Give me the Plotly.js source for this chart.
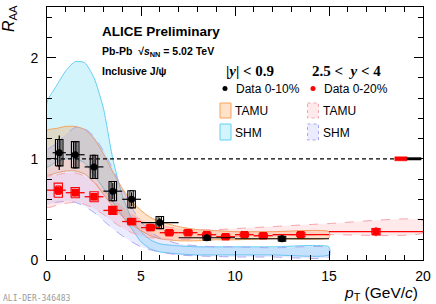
<!DOCTYPE html>
<html><head><meta charset="utf-8">
<script src="https://cdn.plot.ly/plotly-3.0.1.min.js"></script>
<style>html,body{margin:0;padding:0;background:#fff}</style>
</head><body><div id="chart" style="width:436px;height:304px"></div>
<script>
// ---- Data: |y|<0.9, 0-10% (black) ----
var midPt      = [0.65, 1.5, 2.5, 3.5, 4.5, 6.0, 8.5, 12.5];
var midLo      = [0.3, 1.0, 2.0, 3.0, 4.0, 5.0, 7.0, 10.0];
var midHi      = [1.0, 2.0, 3.0, 4.0, 5.0, 7.0, 10.0, 15.0];
var midRaa     = [1.06, 1.04, 0.92, 0.68, 0.60, 0.37, 0.22, 0.21];
var midStat    = [0.17, 0.13, 0.11, 0.08, 0.07, 0.05, 0.03, 0.03];
var midSys     = [0.13, 0.13, 0.115, 0.095, 0.085, 0.06, 0.025, 0.025];
// ---- Data: 2.5<y<4, 0-20% (red) ----
var fwdPt      = [0.6, 1.5, 2.5, 3.5, 4.5, 5.5, 6.5, 7.5, 8.5, 9.5, 10.5, 11.5, 13.5, 17.5];
var fwdLo      = [0, 1, 2, 3, 4, 5, 6, 7, 8, 9, 10, 11, 12, 15];
var fwdHi      = [1, 2, 3, 4, 5, 6, 7, 8, 9, 10, 11, 12, 15, 20];
var fwdRaa     = [0.69, 0.665, 0.625, 0.49, 0.38, 0.32, 0.27, 0.27, 0.25, 0.23, 0.25, 0.24, 0.25, 0.28];
var fwdStat    = [0.03, 0.02, 0.02, 0.02, 0.015, 0.012, 0.01, 0.01, 0.012, 0.012, 0.015, 0.015, 0.02, 0.045];
var fwdSys     = [0.07, 0.05, 0.05, 0.04, 0.03, 0.025, 0.02, 0.02, 0.02, 0.02, 0.02, 0.02, 0.02, 0.03];
var globalUncFwd = 0.02;
var globalUncMid = 0.012;
// ---- Models ----
var modelPtMid = [0, 0.5, 1, 1.5, 2, 2.5, 3, 3.5, 4, 4.5, 5, 5.5, 6, 7, 8, 9, 10, 12, 15];
var shmMidUp   = [1.56, 1.72, 1.87, 1.96, 1.95, 1.80, 1.50, 1.00, 0.64, 0.41, 0.28, 0.20, 0.16, 0.14, 0.13, 0.13, 0.13, 0.13, 0.13];
var shmMidLow  = [0.92, 0.97, 1.00, 1.00, 0.96, 0.84, 0.71, 0.57, 0.44, 0.31, 0.18, 0.11, 0.08, 0.06, 0.05, 0.05, 0.05, 0.05, 0.05];
var tamuMidUp  = [1.28, 1.30, 1.32, 1.32, 1.29, 1.20, 1.05, 0.87, 0.71, 0.58, 0.49, 0.42, 0.38, 0.33, 0.30, 0.29, 0.28, 0.28, 0.28];
var tamuMidLow = [0.84, 0.86, 0.88, 0.88, 0.85, 0.77, 0.65, 0.53, 0.43, 0.35, 0.29, 0.24, 0.21, 0.19, 0.19, 0.20, 0.20, 0.21, 0.22];
var modelPtFwd = [0, 0.5, 1, 1.5, 2, 2.5, 3, 3.5, 4, 4.5, 5, 5.5, 6, 7, 8, 9, 10, 12, 15, 20];
var tamuFwdUp  = [0.82, 0.84, 0.86, 0.86, 0.83, 0.77, 0.69, 0.60, 0.52, 0.45, 0.40, 0.36, 0.34, 0.31, 0.30, 0.30, 0.31, 0.33, 0.36, 0.39];
var tamuFwdLow = [0.52, 0.54, 0.56, 0.57, 0.55, 0.51, 0.45, 0.38, 0.32, 0.27, 0.24, 0.22, 0.21, 0.20, 0.21, 0.22, 0.23, 0.24, 0.25, 0.27];
var shmFwdPt   = [0, 0.5, 1, 1.5, 2, 2.5, 3, 3.5, 4, 4.5, 5, 5.5, 6, 7, 8, 9, 10, 12, 15];
var shmFwdUp   = [1.08, 1.15, 1.24, 1.31, 1.30, 1.22, 1.08, 0.90, 0.70, 0.52, 0.38, 0.28, 0.22, 0.16, 0.14, 0.13, 0.13, 0.12, 0.12];
var shmFwdLow  = [0.55, 0.57, 0.58, 0.57, 0.53, 0.47, 0.39, 0.31, 0.24, 0.18, 0.13, 0.10, 0.08, 0.05, 0.04, 0.035, 0.03, 0.03, 0.03];
var xTickVals  = [0, 5, 10, 15, 20];
var yTickVals  = [0, 1, 2];

function band(xs, up, lo, fill, lcol, dash, name) {
  var x = xs.slice().concat(xs.slice().reverse(), [xs[0]]);
  var y = up.slice().concat(lo.slice().reverse(), [up[0]]);
  return {x: x, y: y, type: 'scatter', mode: 'lines', fill: 'toself', fillcolor: fill,
    line: {color: lcol, width: 1, dash: dash, shape: 'spline', smoothing: 0.6}, hoverinfo: 'skip', name: name, showlegend: false};
}
function boxes(xs, ys, hw, hh, col, w) {
  var bx = [], by = [];
  for (var i = 0; i < xs.length; i++) {
    var h = hh[i];
    bx.push(xs[i]-hw, xs[i]+hw, xs[i]+hw, xs[i]-hw, xs[i]-hw, null);
    by.push(ys[i]-h, ys[i]-h, ys[i]+h, ys[i]+h, ys[i]-h, null);
  }
  return {x: bx, y: by, type: 'scatter', mode: 'lines', line: {color: col, width: w}, hoverinfo: 'skip', showlegend: false};
}
function scaled(arr, f) { return arr.map(function(v){ return v*f; }); }
function diff(a, b) { return a.map(function(v, i){ return Math.abs(v - b[i]); }); }

var traces = [
  band(modelPtMid, shmMidUp, shmMidLow, 'rgba(0,190,237,0.17)', '#62d0f2', 'solid', 'SHM mid'),
  band(modelPtMid, tamuMidUp, tamuMidLow, 'rgba(255,140,40,0.25)', '#f5a35a', 'solid', 'TAMU mid'),
  band(shmFwdPt, shmFwdUp, shmFwdLow, 'rgba(120,120,255,0.15)', '#a8a8f0', 'dash', 'SHM fwd'),
  band(modelPtFwd, tamuFwdUp, tamuFwdLow, 'rgba(255,100,110,0.14)', '#f5a5ad', 'dash', 'TAMU fwd'),
  {x: [0, 18.5], y: [1, 1], type: 'scatter', mode: 'lines', line: {color: '#000', width: 1.3, dash: '4px,3px'}, hoverinfo: 'skip', showlegend: false},
  {x: [18.5, 19.15, 19.15, 18.5, 18.5], y: [1-globalUncFwd, 1-globalUncFwd, 1+globalUncFwd, 1+globalUncFwd, 1-globalUncFwd],
   type: 'scatter', mode: 'lines', fill: 'toself', fillcolor: '#ff0000', line: {color: '#ff0000', width: 0.5}, hoverinfo: 'skip', showlegend: false},
  {x: [19.15, 19.9, 19.9, 19.15, 19.15], y: [1-globalUncMid, 1-globalUncMid, 1+globalUncMid, 1+globalUncMid, 1-globalUncMid],
   type: 'scatter', mode: 'lines', fill: 'toself', fillcolor: '#000', line: {color: '#000', width: 0.5}, hoverinfo: 'skip', showlegend: false},
  boxes(fwdPt, fwdRaa, 0.22, fwdSys, '#ff0000', 1.1),
  boxes(fwdPt, fwdRaa, 0.12, scaled(fwdSys, 0.6), '#ff0000', 1.0),
  boxes(midPt, midRaa, 0.2, midSys, '#000', 1.1),
  boxes(midPt, midRaa, 0.09, midSys, '#000', 1.0),
  {x: fwdPt, y: fwdRaa, type: 'scatter', mode: 'markers',
   marker: {symbol: 'square', size: 7.5, color: '#ff0000'},
   error_y: {type: 'data', array: fwdStat, visible: true, color: '#ff0000', thickness: 1.3, width: 0},
   error_x: {type: 'data', symmetric: false, array: diff(fwdHi, fwdPt), arrayminus: diff(fwdPt, fwdLo), visible: true, color: '#ff0000', thickness: 1.3, width: 0},
   hoverinfo: 'skip', showlegend: false},
  {x: midPt, y: midRaa, type: 'scatter', mode: 'markers',
   marker: {symbol: 'circle', size: 7, color: '#000'},
   error_y: {type: 'data', array: midStat, visible: true, color: '#000', thickness: 1.2, width: 0},
   error_x: {type: 'data', symmetric: false, array: diff(midHi, midPt), arrayminus: diff(midPt, midLo), visible: true, color: '#000', thickness: 1.2, width: 0},
   hoverinfo: 'skip', showlegend: false}
];

var L = 47, R = 13, T = 7, B = 44, W = 436, H = 304;
function px(x) { return (x - L) / (W - L - R); }
function py(y) { return (H - B - y) / (H - T - B); }
var sans = 'Liberation Sans, Arial, Helvetica, sans-serif';
var serif = 'Liberation Serif, Times New Roman, serif';

function txt(x, y, t, size, opts) {
  var a = {xref: 'paper', yref: 'paper', x: px(x), y: py(y), text: t, showarrow: false,
    xanchor: 'left', yanchor: 'middle', font: {family: sans, size: size, color: '#000'}};
  for (var k in opts) a[k] = opts[k];
  return a;
}

var annotations = [
  txt(100, 32, '<b>ALICE Preliminary</b>', 13.5),
  txt(100, 52, '<b>Pb-Pb  \u221A<i>s</i><sub>NN</sub> = 5.02 TeV</b>', 10.5),
  txt(100, 71, '<b>Inclusive J/\u03C8</b>', 10.5),
  txt(250, 71, '<b>|<i>y</i>| < 0.9</b>', 15, {xanchor: 'center', font: {family: serif, size: 15, color: '#000'}}),
  txt(346, 71, '<b>2.5 <  <i>y</i> < 4</b>', 15, {xanchor: 'center', font: {family: serif, size: 15, color: '#000'}}),
  txt(234, 89, 'Data 0-10%', 12),
  txt(321.5, 89, 'Data 0-20%', 12),
  txt(233, 111, 'TAMU', 12),
  txt(233, 132.5, 'SHM', 12),
  txt(320.5, 111, 'TAMU', 12),
  txt(320.5, 132.5, 'SHM', 12),
  txt(10, 19, '<i>R</i><sub>AA</sub>', 16, {xanchor: 'center', textangle: -90}),
  txt(420, 293, '<i>p</i><sub>T</sub> (GeV/<i>c</i>)', 15.5, {xanchor: 'right'}),
  txt(1, 298, 'ALI-DER-346483', 8, {font: {family: 'DejaVu Sans Mono, monospace', size: 8, color: '#9a9a9a'}})
];

function rect(x0, y0, x1, y1, fill, col, dash) {
  return {type: 'rect', xref: 'paper', yref: 'paper', x0: px(x0), x1: px(x1), y0: py(y0), y1: py(y1),
    fillcolor: fill, line: {color: col, width: 1, dash: dash}};
}
var shapes = [
  {type: 'circle', xref: 'paper', yref: 'paper', x0: px(222.5), x1: px(227.5), y0: py(91), y1: py(86), fillcolor: '#000', line: {color: '#000', width: 0}},
  {type: 'circle', xref: 'paper', yref: 'paper', x0: px(310.5), x1: px(315.5), y0: py(91), y1: py(86), fillcolor: '#ff0000', line: {color: '#ff0000', width: 0}},
  rect(220, 103, 231, 118, 'rgba(255,140,40,0.25)', '#f5a35a', 'solid'),
  rect(220, 124, 231, 140, 'rgba(0,190,237,0.17)', '#62d0f2', 'solid'),
  rect(307.5, 103, 318.5, 118, 'rgba(255,100,110,0.14)', '#f5a5ad', 'dot'),
  rect(307.5, 124, 318.5, 140, 'rgba(120,120,255,0.15)', '#a8a8f0', 'dot')
];

var axisCommon = {showgrid: false, zeroline: false, showline: true, linecolor: '#000', linewidth: 1,
  mirror: 'ticks', ticks: 'inside', ticklen: 9, tickcolor: '#000', tickwidth: 1,
  tickfont: {family: sans, size: 14, color: '#000'}};
var layout = {
  width: W, height: H, margin: {l: L, r: R, t: T, b: B, pad: 0},
  paper_bgcolor: '#fff', plot_bgcolor: '#fff', showlegend: false,
  xaxis: Object.assign({}, axisCommon, {range: [0, 20], tickvals: xTickVals, ticktext: xTickVals.map(String),
    minor: {dtick: 1, ticks: 'inside', ticklen: 5, tickcolor: '#000'}, ticklabelstandoff: 3}),
  yaxis: Object.assign({}, axisCommon, {range: [0, 2.5], tickvals: yTickVals, ticktext: yTickVals.map(String),
    minor: {dtick: 0.2, ticks: 'inside', ticklen: 5, tickcolor: '#000'}, ticklabelstandoff: 5}),
  annotations: annotations, shapes: shapes
};
Plotly.newPlot('chart', traces, layout, {staticPlot: true, displayModeBar: false});
</script></body></html>
